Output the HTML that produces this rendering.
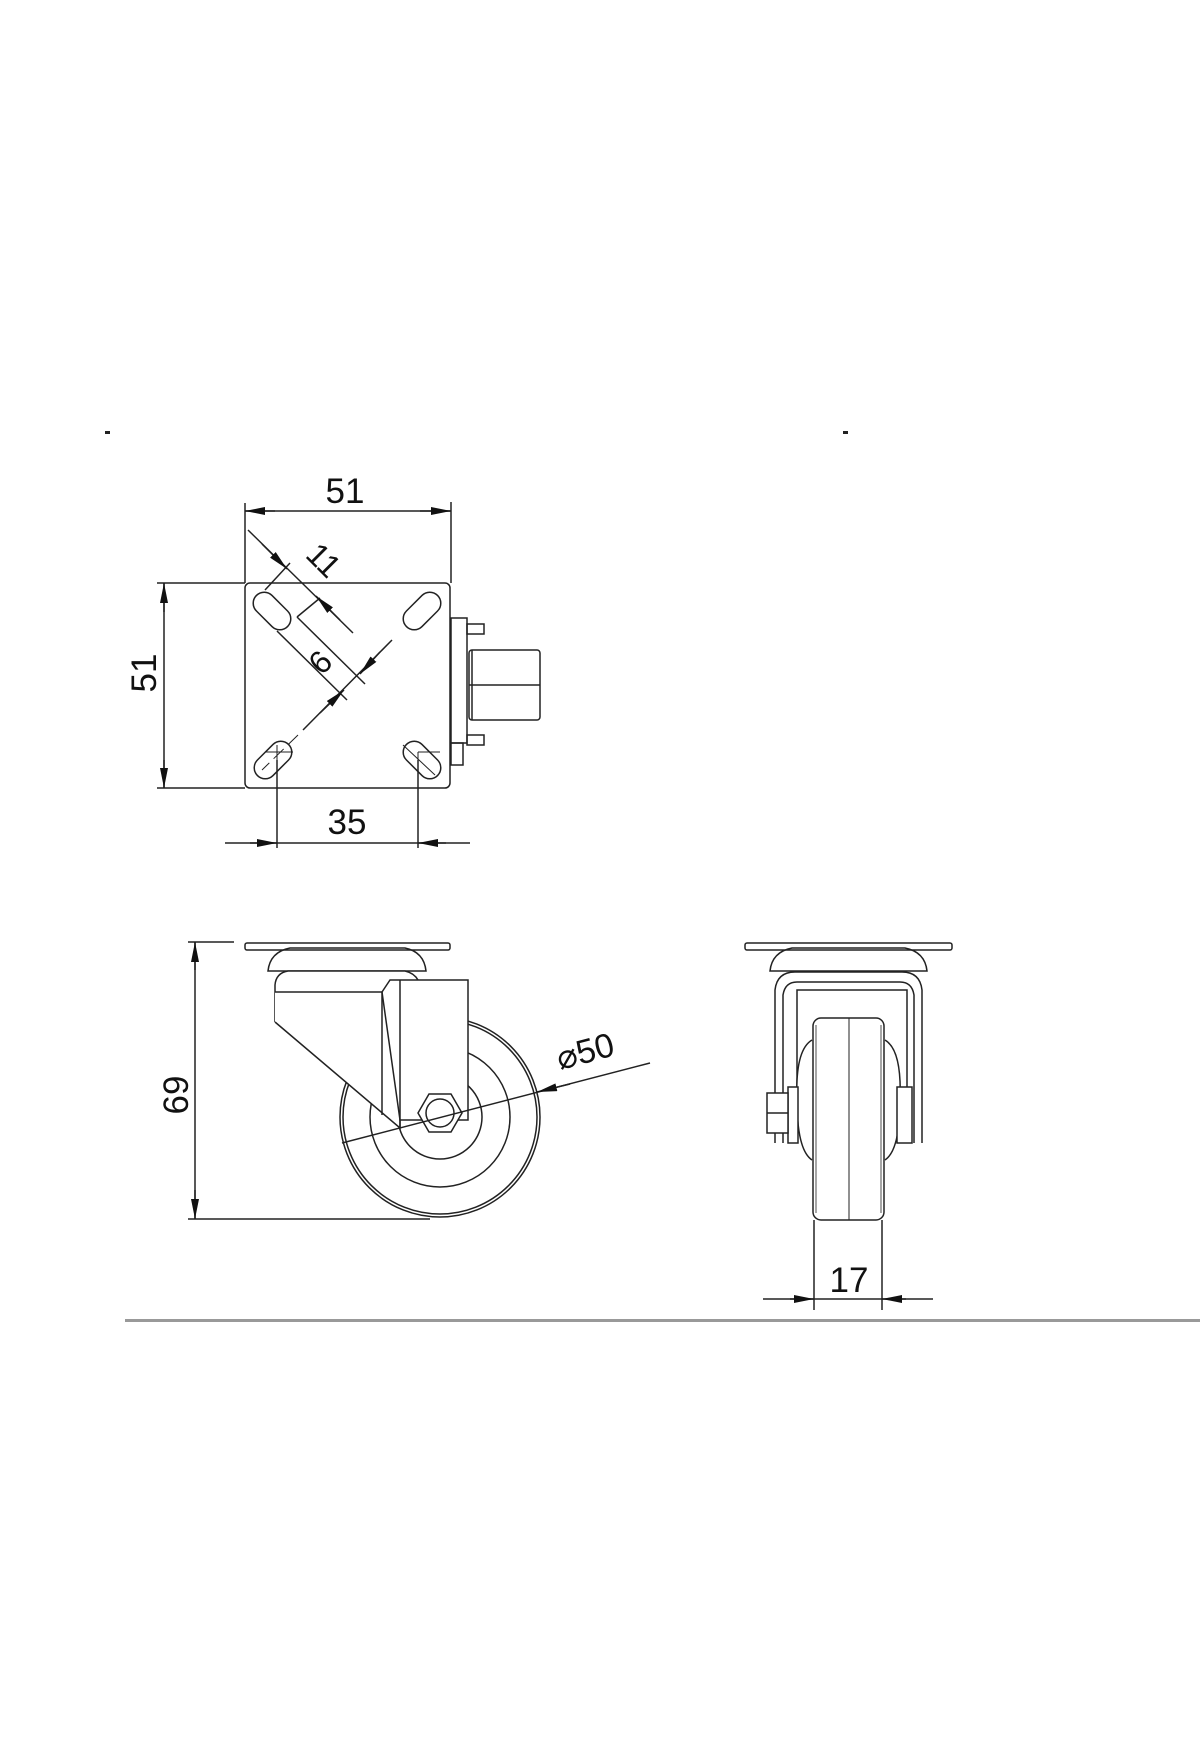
<!DOCTYPE html>
<html><head><meta charset="utf-8"><style>html,body{margin:0;padding:0;background:#fff}svg{display:block}</style></head>
<body>
<svg width="1200" height="1760" viewBox="0 0 1200 1760" xmlns="http://www.w3.org/2000/svg" font-family="Liberation Sans, sans-serif">
<defs>
<marker id="a" viewBox="0 0 20 8" refX="20" refY="4" markerWidth="20" markerHeight="8" markerUnits="userSpaceOnUse" orient="auto"><path d="M0,0 L20,4 L0,8 z" fill="#111"/></marker>
</defs>
<rect width="1200" height="1760" fill="#fff"/>
<rect x="105" y="431" width="5" height="3" fill="#222"/>
<rect x="843" y="431" width="5" height="3" fill="#222"/>
<g stroke="#222" stroke-width="1.5" fill="none">
<!-- top view -->
<rect x="245" y="583" width="205" height="205" rx="5" fill="#fff"/>
<line x1="245" y1="503" x2="245" y2="583"/><line x1="451" y1="502" x2="451" y2="583"/>
<line x1="245" y1="511" x2="451" y2="511"/>
<line x1="275" y1="511" x2="245" y2="511" marker-end="url(#a)"/>
<line x1="420" y1="511" x2="451" y2="511" marker-end="url(#a)"/>
<line x1="157" y1="583" x2="245" y2="583"/><line x1="157" y1="788" x2="245" y2="788"/>
<line x1="164" y1="583" x2="164" y2="788"/>
<line x1="164" y1="612" x2="164" y2="583" marker-end="url(#a)"/>
<line x1="164" y1="760" x2="164" y2="788" marker-end="url(#a)"/>
<line x1="277" y1="760" x2="277" y2="848"/><line x1="418" y1="760" x2="418" y2="848"/>
<line x1="225" y1="843" x2="470" y2="843"/>
<line x1="250" y1="843" x2="277" y2="843" marker-end="url(#a)"/>
<line x1="446" y1="843" x2="418" y2="843" marker-end="url(#a)"/>
<!-- slots -->
<rect x="250" y="600" width="44" height="22" rx="11" transform="rotate(45 272 611)"/>
<rect x="400" y="600" width="44" height="22" rx="11" transform="rotate(-45 422 611)"/>
<rect x="251" y="749" width="44" height="22" rx="11" transform="rotate(-45 273 760)"/>
<rect x="400" y="749" width="44" height="22" rx="11" transform="rotate(45 422 760)"/>
<line x1="265" y1="752" x2="293" y2="752" stroke-width="1"/><line x1="277" y1="745" x2="277" y2="775" stroke-width="1"/>
<line x1="403" y1="745" x2="435" y2="775" stroke-width="1"/><line x1="418" y1="752" x2="440" y2="752" stroke-width="1"/><line x1="418" y1="752" x2="418" y2="775" stroke-width="1"/>
<!-- 11 dim -->
<line x1="265" y1="590" x2="290" y2="563"/>
<line x1="297" y1="617" x2="320" y2="598"/>
<line x1="248" y1="530" x2="353" y2="633"/>
<line x1="262" y1="544" x2="287" y2="569" marker-end="url(#a)"/>
<line x1="340" y1="620" x2="316" y2="596" marker-end="url(#a)"/>
<!-- 6 dim -->
<line x1="277" y1="631" x2="347" y2="700"/>
<line x1="297" y1="617" x2="365" y2="684"/>
<line x1="303" y1="730" x2="392" y2="640"/>
<line x1="320" y1="713" x2="344" y2="690" marker-end="url(#a)"/>
<line x1="380" y1="652" x2="360" y2="674" marker-end="url(#a)"/>
<line x1="298" y1="735" x2="262" y2="770" stroke-dasharray="14 6" stroke-width="1"/>
<!-- mechanism -->
<rect x="451" y="618" width="16" height="125"/>
<rect x="451" y="743" width="12" height="22"/>
<rect x="467" y="624" width="17" height="10"/>
<rect x="467" y="735" width="17" height="10"/>
<rect x="469" y="650" width="71" height="70" rx="3"/>
<line x1="469" y1="685" x2="540" y2="685"/><line x1="472" y1="650" x2="472" y2="720"/>
<!-- side view -->
<line x1="188" y1="942" x2="234" y2="942"/>
<line x1="188" y1="1219" x2="430" y2="1219"/>
<line x1="195" y1="942" x2="195" y2="1219"/>
<line x1="195" y1="970" x2="195" y2="942" marker-end="url(#a)"/>
<line x1="195" y1="1190" x2="195" y2="1219" marker-end="url(#a)"/>
<rect x="245" y="943" width="205" height="7" rx="2"/>
<path d="M268,971 Q270,952 290,948 L405,948 Q424,952 426,971 Z"/>
<circle cx="440" cy="1117" r="100" fill="#fff"/>
<circle cx="440" cy="1117" r="97"/>
<circle cx="440" cy="1117" r="70"/>
<circle cx="440" cy="1117" r="42"/>
<path d="M275,1022 L275,985 Q276,973 288,971 L405,971 Q414,973 418,980" fill="#fff"/>
<path d="M275,1022 L400,1128 L400,1000 L382,992 L275,992" fill="#fff"/>
<path d="M382,992 L390,980 L468,980 L468,1120 L400,1120 Z" fill="#fff"/>
<line x1="400" y1="980" x2="400" y2="1128"/>
<line x1="382" y1="992" x2="382" y2="1115"/>
<polygon points="418,1113 429,1094 451,1094 462,1113 451,1132 429,1132" fill="#fff"/>
<circle cx="440" cy="1113" r="14"/>
<line x1="342" y1="1143" x2="650" y2="1063"/>
<line x1="570" y1="1084" x2="537" y2="1092" marker-end="url(#a)"/>
<!-- front view -->
<rect x="745" y="943" width="207" height="7" rx="2"/>
<path d="M770,971 Q772,952 792,948 L905,948 Q925,952 927,971 Z"/>
<path d="M775,1143 L775,990 Q777,972 795,972 L902,972 Q920,972 922,990 L922,1143"/>
<path d="M783,1143 L783,995 Q785,982 797,982 L900,982 Q912,982 914,995 L914,1143"/>
<path d="M797,1110 L797,990 L907,990 L907,1110"/>
<path d="M812,1040 Q795,1050 797,1100 Q797,1150 812,1160" fill="#fff"/>
<path d="M885,1040 Q902,1050 900,1100 Q900,1150 885,1160" fill="#fff"/>
<rect x="788" y="1087" width="10" height="56" fill="#fff"/>
<rect x="897" y="1087" width="15" height="56" fill="#fff"/>
<rect x="767" y="1093" width="21" height="40" fill="#fff"/>
<line x1="767" y1="1113" x2="788" y2="1113"/>
<rect x="813" y="1018" width="71" height="202" rx="8" fill="#fff"/>
<line x1="849" y1="1018" x2="849" y2="1220" stroke-width="1"/>
<line x1="816" y1="1025" x2="816" y2="1213" stroke-width="0.8"/>
<line x1="881" y1="1025" x2="881" y2="1213" stroke-width="0.8"/>
<line x1="814" y1="1220" x2="814" y2="1310"/><line x1="882" y1="1220" x2="882" y2="1310"/>
<line x1="763" y1="1299" x2="933" y2="1299"/>
<line x1="790" y1="1299" x2="814" y2="1299" marker-end="url(#a)"/>
<line x1="906" y1="1299" x2="882" y2="1299" marker-end="url(#a)"/>
</g>
<rect x="125" y="1319" width="1075" height="3" fill="#999"/>
<g fill="#111" font-size="35">
<text x="345" y="503" text-anchor="middle">51</text>
<text x="347" y="834" text-anchor="middle">35</text>
<text transform="translate(156 673) rotate(-90)" text-anchor="middle">51</text>
<text transform="translate(188 1095) rotate(-90)" text-anchor="middle">69</text>
<text x="849" y="1292" text-anchor="middle">17</text>
<text transform="translate(316 568) rotate(45)" text-anchor="middle" font-size="32">11</text>
<text transform="translate(328 670) rotate(-45)" text-anchor="middle" font-size="32">6</text>
<text transform="translate(560 1070) rotate(-15)" font-size="34">⌀50</text>
</g>
</svg>
</body></html>
